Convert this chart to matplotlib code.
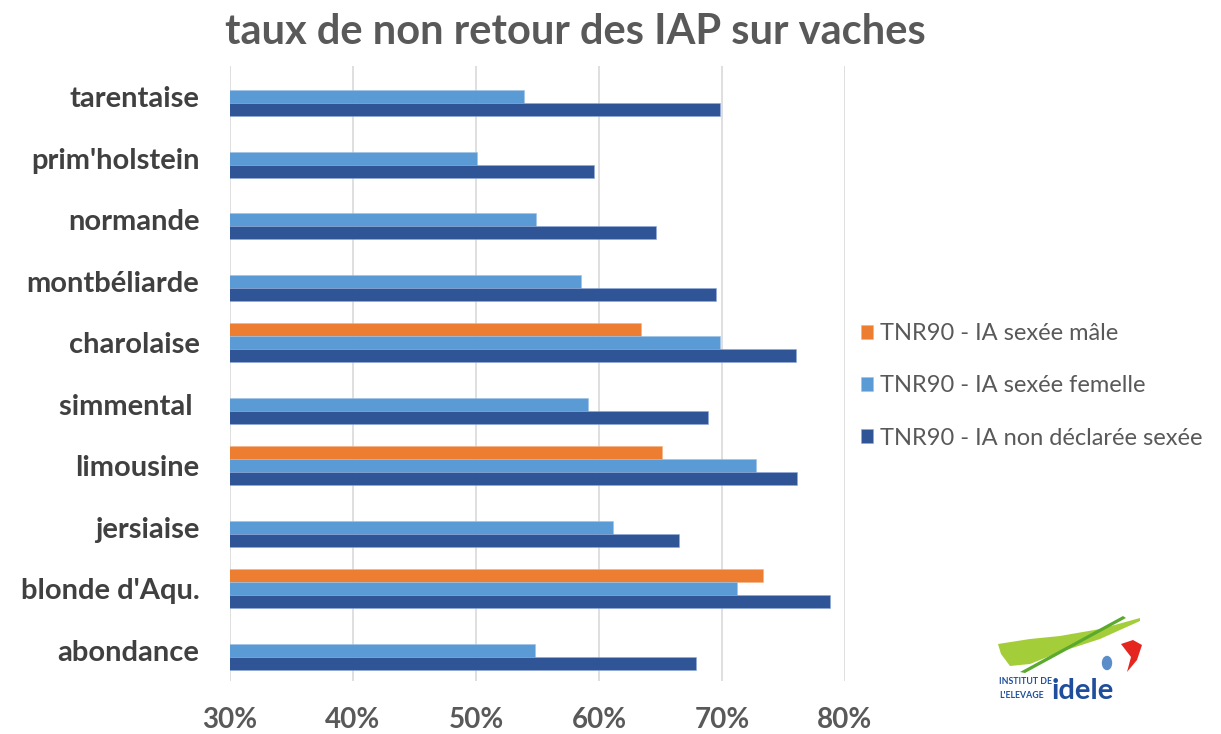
import numpy as np
import matplotlib.pyplot as plt
from matplotlib.patches import Polygon, Ellipse

# data, top to bottom as shown on the chart
races = ['tarentaise', "prim'holstein", 'normande', 'montbéliarde', 'charolaise',
         'simmental ', 'limousine', 'jersiaise', "blonde d'Aqu.", 'abondance']
tnr_male = [np.nan, np.nan, np.nan, np.nan, 63.4, np.nan, 65.1, np.nan, 73.3, np.nan]
tnr_femelle = [53.9, 50.1, 54.9, 58.5, 69.8, 59.1, 72.8, 61.1, 71.2, 54.8]
tnr_non_sexee = [69.8, 59.6, 64.6, 69.5, 76.0, 68.9, 76.1, 66.5, 78.8, 67.9]
series_labels = ['TNR90 - IA sexée mâle', 'TNR90 - IA sexée femelle',
                 'TNR90 - IA non déclarée sexée']
xticks = [30, 40, 50, 60, 70, 80]

col_male = '#ED7D31'
col_fem = '#5B9BD5'
col_non = '#2F5597'
txt_grey = '#595959'

plt.rcParams['font.family'] = ['Lato', 'DejaVu Sans']

fig = plt.figure(figsize=(12.21, 7.34), dpi=100)
ax = fig.add_axes([230/1221, 1-681/734, 615/1221, 615/734])

n = len(races)
y = np.arange(n)[::-1]
h = 0.212

b1 = ax.barh(y + h, tnr_male, height=h, color=col_male, edgecolor='#F4B183', linewidth=0.4, label=series_labels[0])
b2 = ax.barh(y, tnr_femelle, height=h, color=col_fem, edgecolor='#9DC3E6', linewidth=0.4, label=series_labels[1])
b3 = ax.barh(y - h, tnr_non_sexee, height=h, color=col_non, edgecolor='#8FAADC', linewidth=0.4, label=series_labels[2])

ax.set_xlim(30, 80)
ax.set_ylim(-0.5, n - 0.5)
ax.set_xticks(xticks)
ax.set_xticklabels([f'{t}%' for t in xticks], fontsize=20, fontweight='bold', color=txt_grey)
ax.set_yticks(y)
ax.set_yticklabels(races, fontsize=21, fontweight='bold', color='#404040')
ax.tick_params(axis='x', length=0, pad=19)
ax.tick_params(axis='y', length=0, pad=22)
ax.grid(axis='x', color='#D9D9D9', linewidth=1.2)
ax.set_axisbelow(True)
for s in ax.spines.values():
    s.set_visible(False)

fig.text(575/1221, 1-32/734, 'taux de non retour des IAP sur vaches', ha='center', va='center',
         fontsize=30, fontweight='bold', color=txt_grey)

# legend
fig.legend(handles=[b1, b2, b3], loc='upper left', bbox_to_anchor=(840/1221, 1-302/734),
           frameon=False, fontsize=17, labelcolor=txt_grey, handlelength=0.5, handleheight=0.5,
           handletextpad=0.3, labelspacing=1.32)

# idele logo (decoration)
lax = fig.add_axes([995/1221, 1-712/734, 155/1221, 100/734])
lax.set_xlim(0, 155)
lax.set_ylim(100, 0)
lax.axis('off')
lax.add_patch(Polygon([[3, 32], [35, 27], [65, 24], [105, 17], [145, 6], [145, 9], [105, 27],
                       [65, 40], [35, 52], [15, 54], [6, 42]], closed=True, color='#A4CE39', lw=0))
lax.add_patch(Polygon([[25, 60], [128, 4], [131, 6], [30, 61]], closed=True, color='#5BAA2F', lw=0))
lax.add_patch(Ellipse((112, 51), 9, 13, color='#5B8EC9'))
lax.add_patch(Polygon([[126, 32], [138, 28], [147, 33], [142, 48], [132, 60], [136, 45]],
                      closed=True, color='#E52620', lw=0))
lax.text(4, 70, 'INSTITUT DE', fontsize=6.3, fontweight='bold', color='#1F4E9C', va='center')
lax.text(4, 84, "L'ELEVAGE", fontsize=6.3, fontweight='bold', color='#1F4E9C', va='center')
lax.text(57, 79, 'idele', fontsize=21, fontweight='bold', color='#1F4E9C', va='center')

fig.savefig('out.png', dpi=100)
